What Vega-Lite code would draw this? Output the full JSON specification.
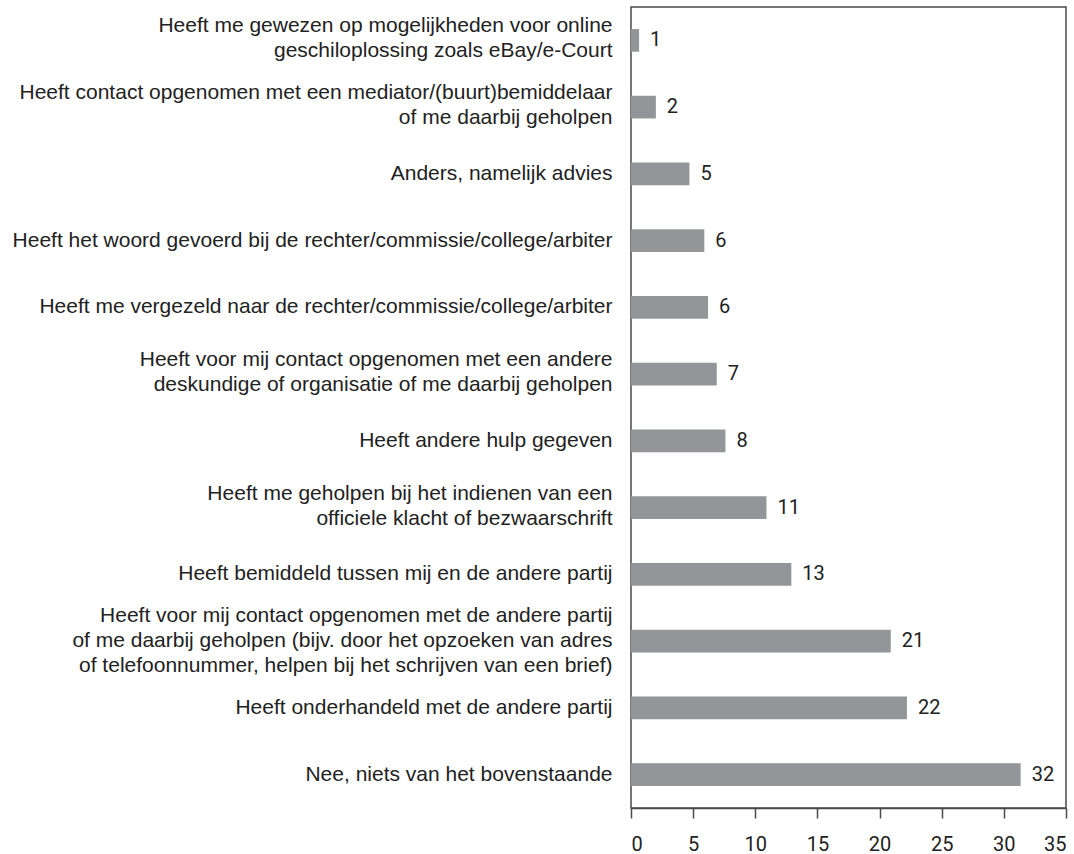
{
  "$schema": "https://vega.github.io/schema/vega-lite/v6.json",
  "width": 435,
  "height": 801,
  "autosize": {"type": "none"},
  "padding": {"left": 631, "top": 7, "right": 8, "bottom": 46},
  "background": "white",
  "config": {
    "view": {"stroke": "#4a4a4a", "strokeWidth": 1.5},
    "font": "Roboto"
  },
  "data": {
    "values": [
      {"category": "Heeft me gewezen op mogelijkheden voor online|geschiloplossing zoals eBay/e-Court", "value": 0.65, "label": "1"},
      {"category": "Heeft contact opgenomen met een mediator/(buurt)bemiddelaar|of me daarbij geholpen", "value": 2.0, "label": "2"},
      {"category": "Anders, namelijk advies", "value": 4.7, "label": "5"},
      {"category": "Heeft het woord gevoerd bij de rechter/commissie/college/arbiter", "value": 5.9, "label": "6"},
      {"category": "Heeft me vergezeld naar de rechter/commissie/college/arbiter", "value": 6.2, "label": "6"},
      {"category": "Heeft voor mij contact opgenomen met een andere|deskundige of organisatie of me daarbij geholpen", "value": 6.9, "label": "7"},
      {"category": "Heeft andere hulp gegeven", "value": 7.6, "label": "8"},
      {"category": "Heeft me geholpen bij het indienen van een|officiele klacht of bezwaarschrift", "value": 10.9, "label": "11"},
      {"category": "Heeft bemiddeld tussen mij en de andere partij", "value": 12.9, "label": "13"},
      {"category": "Heeft voor mij contact opgenomen met de andere partij|of me daarbij geholpen (bijv. door het opzoeken van adres|of telefoonnummer, helpen bij het schrijven van een brief)", "value": 20.9, "label": "21"},
      {"category": "Heeft onderhandeld met de andere partij", "value": 22.2, "label": "22"},
      {"category": "Nee, niets van het bovenstaande", "value": 31.35, "label": "32"}
    ]
  },
  "encoding": {
    "y": {
      "field": "category",
      "type": "nominal",
      "sort": null,
      "scale": {"paddingInner": 0.66, "paddingOuter": 0.33},
      "axis": {
        "title": null,
        "ticks": false,
        "domain": false,
        "labelExpr": "split(datum.value, '|')",
        "labelFont": "Liberation Sans",
        "labelFontSize": 21,
        "labelLineHeight": 25,
        "labelColor": "#222222",
        "labelPadding": 19,
        "labelLimit": 700,
        "labelOffset": {
          "condition": [
            {"test": "length(split(datum.value, '|')) == 3", "value": -25},
            {"test": "length(split(datum.value, '|')) == 2", "value": -14}
          ],
          "value": 0
        }
      }
    },
    "x": {
      "field": "value",
      "type": "quantitative",
      "scale": {"domain": [0, 35], "nice": false},
      "axis": {
        "title": null,
        "values": [0, 5, 10, 15, 20, 25, 30, 35],
        "grid": false,
        "domainColor": "#4a4a4a",
        "domainWidth": 1.5,
        "tickColor": "#4a4a4a",
        "tickWidth": 1.5,
        "tickSize": 10,
        "labelFont": "Roboto",
        "labelFontSize": 20,
        "labelColor": "#222222",
        "labelPadding": 16
      }
    }
  },
  "layer": [
    {"mark": {"type": "bar", "color": "#939598"}},
    {
      "mark": {"type": "text", "align": "left", "baseline": "middle", "dx": 11, "fontSize": 20, "font": "Roboto", "color": "#222222"},
      "encoding": {"text": {"field": "label"}}
    }
  ]
}
